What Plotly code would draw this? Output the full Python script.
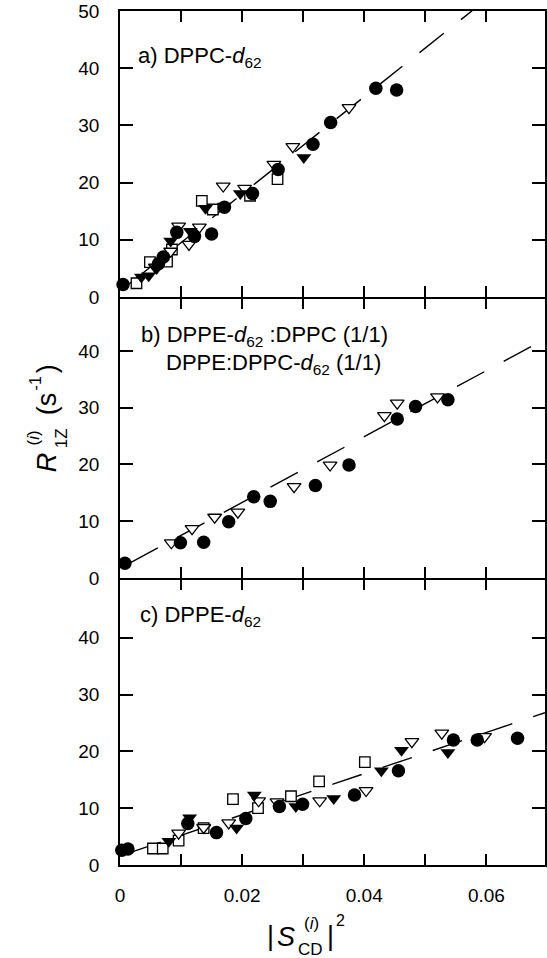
import plotly.graph_objects as go

# ---------------- data ----------------
# Panel a) DPPC-d62
a_circ_x = [0.0005, 0.0063, 0.0071, 0.0093, 0.0122, 0.0150, 0.0171, 0.0217, 0.0259, 0.0316, 0.0345, 0.0419, 0.0453]
a_circ_y = [2.2, 5.8, 7.0, 11.3, 10.6, 11.0, 15.7, 18.1, 22.3, 26.7, 30.5, 36.5, 36.2]
a_otri_x = [0.0058, 0.0083, 0.0096, 0.0113, 0.0130, 0.0169, 0.0204, 0.0252, 0.0283, 0.0375]
a_otri_y = [5.2, 8.0, 12.4, 9.2, 12.2, 19.4, 19.0, 23.2, 26.3, 33.1]
a_ftri_x = [0.0035, 0.0047, 0.0060, 0.0083, 0.0115, 0.0140, 0.0171, 0.0197, 0.0301]
a_ftri_y = [3.5, 3.7, 5.0, 9.8, 11.5, 15.5, 15.9, 18.1, 24.4]
a_sq_x = [0.0027, 0.0049, 0.0077, 0.0085, 0.0134, 0.0152, 0.0213, 0.0258]
a_sq_y = [2.4, 6.1, 6.2, 8.3, 16.8, 15.3, 17.7, 20.6]
a_fit_x = [0.0, 0.0696]
a_fit_y = [1.0, 60.2]

# Panel b) DPPE-d62:DPPC (1/1), DPPE:DPPC-d62 (1/1)
b_circ_x = [0.0008, 0.0099, 0.0137, 0.0178, 0.0219, 0.0246, 0.0320, 0.0375, 0.0454, 0.0484, 0.0537]
b_circ_y = [2.6, 6.2, 6.3, 9.9, 14.3, 13.5, 16.3, 19.9, 28.0, 30.2, 31.4]
b_otri_x = [0.0084, 0.0118, 0.0155, 0.0193, 0.0285, 0.0344, 0.0433, 0.0454, 0.0520]
b_otri_y = [6.2, 8.7, 10.7, 11.6, 16.1, 19.9, 28.6, 30.8, 31.9]
b_fit_x = [0.0, 0.0696]
b_fit_y = [1.7, 42.1]

# Panel c) DPPE-d62
c_circ_x = [0.0003, 0.0013, 0.0111, 0.0158, 0.0206, 0.0261, 0.0299, 0.0384, 0.0456, 0.0546, 0.0585, 0.0651]
c_circ_y = [2.6, 2.8, 7.3, 5.7, 8.2, 10.3, 10.7, 12.3, 16.6, 22.0, 22.0, 22.3]
c_otri_x = [0.0096, 0.0137, 0.0178, 0.0227, 0.0257, 0.0327, 0.0403, 0.0478, 0.0527, 0.0597]
c_otri_y = [5.6, 6.6, 7.4, 11.3, 11.1, 11.3, 13.1, 21.7, 23.2, 22.6]
c_ftri_x = [0.0080, 0.0114, 0.0191, 0.0220, 0.0288, 0.0350, 0.0428, 0.0461, 0.0537]
c_ftri_y = [4.2, 8.3, 6.5, 12.3, 10.3, 11.7, 16.6, 20.2, 19.8]
c_sq_x = [0.0054, 0.0070, 0.0096, 0.0137, 0.0185, 0.0226, 0.0280, 0.0326, 0.0401]
c_sq_y = [2.9, 2.9, 4.3, 6.5, 11.6, 10.0, 12.1, 14.7, 18.1]
c_fit_x = [0.0, 0.0696]
c_fit_y = [1.6, 26.8]

x_ticks = [0, 0.02, 0.04, 0.06]
x_ticktext = ["0", "0.02", "0.04", "0.06"]
y_ticks_a = [0, 10, 20, 30, 40, 50]
y_ticks_bc = [0, 10, 20, 30, 40]

# ---------------- styling ----------------
FONT = "Liberation Sans, Arial, Helvetica, sans-serif"
W, H = 547, 958
ML, MR, MT, MB = 120, 0, 11, 93
PW, PH = W - ML - MR, H - MT - MB
LW = 1.6

def px2paper(px, py):
    return (px - ML) / PW, (H - MB - py) / PH

fig = go.Figure()

DASH = "0px,12px,31px,10px"

def add_panel(fig, xs, ys, sym, filled, size, xa, ya, lw=1.3):
    fig.add_trace(go.Scatter(
        x=xs, y=ys, mode="markers", xaxis=xa, yaxis=ya, showlegend=False,
        marker=dict(symbol=sym, size=size,
                    color="black" if filled else "white",
                    line=dict(color="black", width=lw if not filled else 0)),
        cliponaxis=False))

def add_fit(fig, xs, ys, xa, ya):
    fig.add_trace(go.Scatter(x=xs, y=ys, mode="lines", xaxis=xa, yaxis=ya,
                             showlegend=False,
                             line=dict(color="black", width=1.4, dash=DASH)))

# panel a
add_fit(fig, a_fit_x, a_fit_y, "x", "y")
add_panel(fig, a_sq_x, a_sq_y, "square", False, 10.5, "x", "y")
add_panel(fig, a_otri_x, a_otri_y, "triangle-down", False, 12, "x", "y")
add_panel(fig, a_ftri_x, a_ftri_y, "triangle-down", True, 13, "x", "y")
add_panel(fig, a_circ_x, a_circ_y, "circle", True, 13.5, "x", "y")
# panel b
add_fit(fig, b_fit_x, b_fit_y, "x2", "y2")
add_panel(fig, b_otri_x, b_otri_y, "triangle-down", False, 12, "x2", "y2")
add_panel(fig, b_circ_x, b_circ_y, "circle", True, 13.5, "x2", "y2")
# panel c
add_fit(fig, c_fit_x, c_fit_y, "x3", "y3")
add_panel(fig, c_sq_x, c_sq_y, "square", False, 10.5, "x3", "y3")
add_panel(fig, c_otri_x, c_otri_y, "triangle-down", False, 12, "x3", "y3")
add_panel(fig, c_ftri_x, c_ftri_y, "triangle-down", True, 13, "x3", "y3")
add_panel(fig, c_circ_x, c_circ_y, "circle", True, 13.5, "x3", "y3")

b_top = (H - MB - 297) / PH
c_top = (H - MB - 578) / PH
ov = LW / PH  # overlap so that shared borders coincide

minor_x = dict(dtick=0.01, ticks="inside", ticklen=11, tickwidth=1.5, tickcolor="black", showgrid=False)
common_x = dict(range=[0, 0.0696], tickvals=x_ticks, ticks="inside", ticklen=11,
                tickwidth=1.5, tickcolor="black", showline=True, linewidth=LW,
                linecolor="black", mirror="ticks", showgrid=False, zeroline=False,
                tickfont=dict(family=FONT, size=19, color="black"),
                ticklabelstandoff=12, minor=minor_x)
common_y = dict(ticks="inside", ticklen=13, tickwidth=1.5, tickcolor="black",
                showline=True, linewidth=LW, linecolor="black", mirror="ticks",
                showgrid=False, zeroline=False,
                tickfont=dict(family=FONT, size=19, color="black"),
                ticklabelstandoff=15)

fig.update_layout(
    width=W, height=H,
    margin=dict(l=ML, r=MR, t=MT, b=MB, pad=0),
    paper_bgcolor="white", plot_bgcolor="white",
    font=dict(family=FONT, color="black"),
    xaxis=dict(anchor="y", showticklabels=False, **common_x),
    xaxis2=dict(anchor="y2", matches="x", showticklabels=False, **common_x),
    xaxis3=dict(anchor="y3", matches="x", ticktext=x_ticktext, **common_x),
    yaxis=dict(domain=[b_top, 1], range=[0, 50], tickvals=y_ticks_a, anchor="x", **common_y),
    yaxis2=dict(domain=[c_top, b_top - ov], range=[0, 49.5 - LW / 5.68], tickvals=y_ticks_bc, anchor="x2", **common_y),
    yaxis3=dict(domain=[0, c_top - ov], range=[0, 50.5 - LW / 5.68], tickvals=y_ticks_bc, anchor="x3", **common_y),
)

def ann(text, px, py, size, xanchor="left", yanchor="middle", angle=0):
    x, y = px2paper(px, py)
    fig.add_annotation(text=text, x=x, y=y, xref="paper", yref="paper",
                       xanchor=xanchor, yanchor=yanchor, showarrow=False,
                       textangle=angle,
                       font=dict(family=FONT, size=size, color="black"))

# panel labels
ann("a) DPPC-<i>d</i><sub>62</sub>", 136, 57, 22)
ann("b) DPPE-<i>d</i><sub>62</sub> :DPPC (1/1)", 139, 336, 22)
ann("DPPE:DPPC-<i>d</i><sub>62</sub> (1/1)", 164, 364, 22)
ann("c) DPPE-<i>d</i><sub>62</sub>", 138, 616, 22)

# x-axis title |S_CD^(i)|^2
ann("|", 271.5, 936, 27, xanchor="center")
ann("<i>S</i>", 287, 937, 27, xanchor="center")
ann("(<i>i</i>)", 312, 923, 17, xanchor="center")
ann("CD", 311, 949, 17, xanchor="center")
ann("|", 331, 936, 27, xanchor="center")
ann("2", 342, 920, 16, xanchor="center")

# y-axis title R_1Z^(i) (s^-1), rotated
ann("<i>R</i>", 47, 462, 27, xanchor="center", angle=-90)
ann("(<i>i</i>)", 33, 438, 17, xanchor="center", angle=-90)
ann("1Z", 61, 438, 17, xanchor="center", angle=-90)
ann("(s", 47, 404, 27, xanchor="center", angle=-90)
ann("-1", 35, 383, 16, xanchor="center", angle=-90)
ann(")", 47, 369, 27, xanchor="center", angle=-90)

fig.write_html("out.html")
